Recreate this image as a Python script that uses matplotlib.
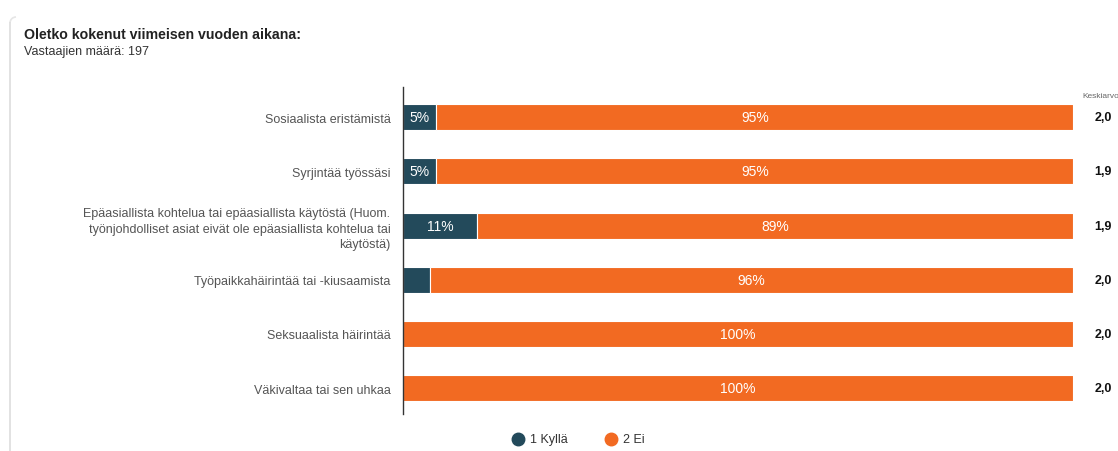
#!/usr/bin/env python3
"""Stacked horizontal bar chart: Oletko kokenut viimeisen vuoden aikana."""

import matplotlib.pyplot as plt
from matplotlib.lines import Line2D
from matplotlib.patches import Arc

plt.rcParams["font.family"] = ["Liberation Sans", "DejaVu Sans"]

categories = [
    "Sosiaalista eristämistä",
    "Syrjintää työssäsi",
    "Epäasiallista kohtelua tai epäasiallista käytöstä (Huom.\n"
    "työnjohdolliset asiat eivät ole epäasiallista kohtelua tai\n"
    "käytöstä)",
    "Työpaikkahäirintää tai -kiusaamista",
    "Seksuaalista häirintää",
    "Väkivaltaa tai sen uhkaa",
]
kylla = [5, 5, 11, 4, 0, 0]
ei = [95, 95, 89, 96, 100, 100]
averages = ["2,0", "1,9", "1,9", "2,0", "2,0", "2,0"]
series_names = ["1 Kyllä", "2 Ei"]
colors = ["#234A5B", "#F26A22"]

W, H = 1118, 452
fig = plt.figure(figsize=(W / 100, H / 100), dpi=100)

# left edge of the card
fig.add_artist(Line2D([10 / W, 10 / W], [0, 1 - 24 / H], transform=fig.transFigure,
                      color="#DDDDDD", linewidth=1.2))
fig.add_artist(Arc((16 / W, 1 - 24 / H), 12 / W, 12 / H, theta1=90, theta2=180,
                   transform=fig.transFigure, color="#E6E6E6", linewidth=1.2))

fig.text(24 / W, 1 - 35 / H, "Oletko kokenut viimeisen vuoden aikana:",
         fontsize=10.2, fontweight="bold", color="#222222", va="center")
fig.text(24 / W, 1 - 52 / H, "Vastaajien määrä: 197",
         fontsize=9, color="#333333", va="center")

ax = fig.add_axes([403 / W, 1 - 415 / H, 670 / W, 327 / H])
y = list(range(len(categories)))
left = [0] * len(categories)
for vals, col in zip([kylla, ei], colors):
    bars = ax.barh(y, vals, left=left, height=0.48, color=col,
                   edgecolor="white", linewidth=0.8)
    for b, v in zip(bars, vals):
        if v >= 5:
            ax.text(b.get_x() + b.get_width() / 2, b.get_y() + b.get_height() / 2,
                    f"{v}%", ha="center", va="center", color="white",
                    fontsize=10)
    left = [l + v for l, v in zip(left, vals)]

ax.set_xlim(0, 100)
ax.set_ylim(5.48, -0.56)
ax.set_yticks(y)
ax.set_yticklabels(categories, fontsize=9, color="#555555", linespacing=1.4)
ax.tick_params(axis="y", length=0, pad=9)
ax.set_xticks([])
for s in ["top", "right", "bottom"]:
    ax.spines[s].set_visible(False)
ax.spines["left"].set_color("#333333")
ax.spines["left"].set_linewidth(1)

# average column
trans = ax.get_yaxis_transform()
for yi, a in zip(y, averages):
    ax.text((1103 - 403) / 670, yi, a, transform=trans,
            ha="center", va="center", fontsize=9, fontweight="bold",
            color="#111111", clip_on=False)
fig.text(1082 / W, 1 - 97 / H, "Keskiarvo", fontsize=6, color="#666666",
         va="center")

# legend
for name, col, xpos in zip(series_names, colors, [518, 611]):
    fig.add_artist(Line2D([xpos / W], [1 - 440 / H], transform=fig.transFigure,
                          marker="o", markersize=9, color=col, linestyle="none"))
    fig.text((xpos + 12) / W, 1 - 440 / H, name, fontsize=9, color="#333333",
             va="center")

fig.savefig("out.png", dpi=100)
